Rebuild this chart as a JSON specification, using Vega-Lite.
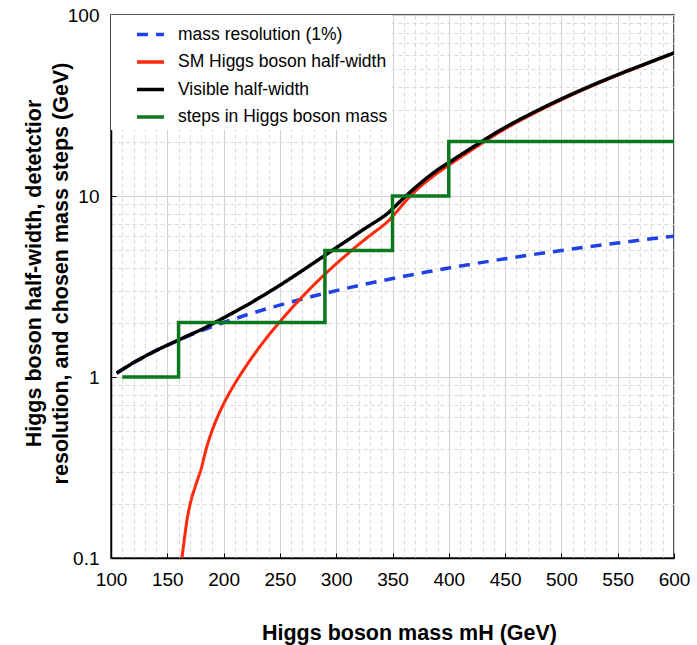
{
  "$schema": "https://vega.github.io/schema/vega-lite/v6.json",
  "width": 563,
  "height": 543,
  "autosize": {"type": "none"},
  "padding": {"left": 111, "top": 15, "right": 23, "bottom": 87},
  "background": "white",
  "config": {
    "font": "Liberation Sans",
    "view": {"stroke": "#222222", "strokeWidth": 1.5},
    "axis": {
      "domainColor": "#000000",
      "domainWidth": 1.5,
      "tickColor": "#000000",
      "tickWidth": 1,
      "labelFont": "Liberation Sans",
      "labelFontSize": 19,
      "labelColor": "#000000",
      "labelFlush": false,
      "labelOverlap": false,
      "titleFont": "Liberation Sans",
      "titleFontSize": 21.5,
      "titleFontWeight": "bold",
      "titleColor": "#000000"
    },
    "legend": {
      "labelFont": "Liberation Sans",
      "labelFontSize": 17.5,
      "labelColor": "#000000"
    }
  },
  "datasets": {
    "curves": [
      {"m": 105, "v": 1.05, "s": "mass resolution (1%)"},
      {"m": 120, "v": 1.2, "s": "mass resolution (1%)"},
      {"m": 140, "v": 1.4, "s": "mass resolution (1%)"},
      {"m": 160, "v": 1.6, "s": "mass resolution (1%)"},
      {"m": 180, "v": 1.8, "s": "mass resolution (1%)"},
      {"m": 200, "v": 2.0, "s": "mass resolution (1%)"},
      {"m": 220, "v": 2.2, "s": "mass resolution (1%)"},
      {"m": 240, "v": 2.4, "s": "mass resolution (1%)"},
      {"m": 260, "v": 2.6, "s": "mass resolution (1%)"},
      {"m": 280, "v": 2.8, "s": "mass resolution (1%)"},
      {"m": 300, "v": 3.0, "s": "mass resolution (1%)"},
      {"m": 320, "v": 3.2, "s": "mass resolution (1%)"},
      {"m": 340, "v": 3.4, "s": "mass resolution (1%)"},
      {"m": 360, "v": 3.6, "s": "mass resolution (1%)"},
      {"m": 380, "v": 3.8, "s": "mass resolution (1%)"},
      {"m": 400, "v": 4.0, "s": "mass resolution (1%)"},
      {"m": 425, "v": 4.25, "s": "mass resolution (1%)"},
      {"m": 450, "v": 4.5, "s": "mass resolution (1%)"},
      {"m": 475, "v": 4.75, "s": "mass resolution (1%)"},
      {"m": 500, "v": 5.0, "s": "mass resolution (1%)"},
      {"m": 525, "v": 5.25, "s": "mass resolution (1%)"},
      {"m": 550, "v": 5.5, "s": "mass resolution (1%)"},
      {"m": 575, "v": 5.75, "s": "mass resolution (1%)"},
      {"m": 600, "v": 6.0, "s": "mass resolution (1%)"},

      {"m": 163, "v": 0.1, "s": "SM Higgs boson half-width"},
      {"m": 165, "v": 0.125, "s": "SM Higgs boson half-width"},
      {"m": 167, "v": 0.155, "s": "SM Higgs boson half-width"},
      {"m": 170, "v": 0.195, "s": "SM Higgs boson half-width"},
      {"m": 175, "v": 0.25, "s": "SM Higgs boson half-width"},
      {"m": 180, "v": 0.31, "s": "SM Higgs boson half-width"},
      {"m": 185, "v": 0.41, "s": "SM Higgs boson half-width"},
      {"m": 190, "v": 0.51, "s": "SM Higgs boson half-width"},
      {"m": 195, "v": 0.61, "s": "SM Higgs boson half-width"},
      {"m": 200, "v": 0.71, "s": "SM Higgs boson half-width"},
      {"m": 210, "v": 0.92, "s": "SM Higgs boson half-width"},
      {"m": 220, "v": 1.15, "s": "SM Higgs boson half-width"},
      {"m": 230, "v": 1.41, "s": "SM Higgs boson half-width"},
      {"m": 240, "v": 1.7, "s": "SM Higgs boson half-width"},
      {"m": 250, "v": 2.02, "s": "SM Higgs boson half-width"},
      {"m": 260, "v": 2.38, "s": "SM Higgs boson half-width"},
      {"m": 270, "v": 2.78, "s": "SM Higgs boson half-width"},
      {"m": 280, "v": 3.22, "s": "SM Higgs boson half-width"},
      {"m": 290, "v": 3.7, "s": "SM Higgs boson half-width"},
      {"m": 300, "v": 4.22, "s": "SM Higgs boson half-width"},
      {"m": 310, "v": 4.78, "s": "SM Higgs boson half-width"},
      {"m": 320, "v": 5.4, "s": "SM Higgs boson half-width"},
      {"m": 330, "v": 6.05, "s": "SM Higgs boson half-width"},
      {"m": 340, "v": 6.75, "s": "SM Higgs boson half-width"},
      {"m": 345, "v": 7.15, "s": "SM Higgs boson half-width"},
      {"m": 350, "v": 7.7, "s": "SM Higgs boson half-width"},
      {"m": 360, "v": 9.1, "s": "SM Higgs boson half-width"},
      {"m": 370, "v": 10.6, "s": "SM Higgs boson half-width"},
      {"m": 380, "v": 12.0, "s": "SM Higgs boson half-width"},
      {"m": 390, "v": 13.4, "s": "SM Higgs boson half-width"},
      {"m": 400, "v": 14.8, "s": "SM Higgs boson half-width"},
      {"m": 420, "v": 17.9, "s": "SM Higgs boson half-width"},
      {"m": 450, "v": 23.5, "s": "SM Higgs boson half-width"},
      {"m": 475, "v": 28.5, "s": "SM Higgs boson half-width"},
      {"m": 500, "v": 34.0, "s": "SM Higgs boson half-width"},
      {"m": 525, "v": 40.0, "s": "SM Higgs boson half-width"},
      {"m": 550, "v": 46.5, "s": "SM Higgs boson half-width"},
      {"m": 575, "v": 53.5, "s": "SM Higgs boson half-width"},
      {"m": 600, "v": 61.5, "s": "SM Higgs boson half-width"},

      {"m": 105, "v": 1.05, "s": "Visible half-width"},
      {"m": 120, "v": 1.2, "s": "Visible half-width"},
      {"m": 140, "v": 1.4, "s": "Visible half-width"},
      {"m": 160, "v": 1.6, "s": "Visible half-width"},
      {"m": 170, "v": 1.711, "s": "Visible half-width"},
      {"m": 180, "v": 1.826, "s": "Visible half-width"},
      {"m": 190, "v": 1.967, "s": "Visible half-width"},
      {"m": 200, "v": 2.122, "s": "Visible half-width"},
      {"m": 210, "v": 2.293, "s": "Visible half-width"},
      {"m": 220, "v": 2.482, "s": "Visible half-width"},
      {"m": 230, "v": 2.698, "s": "Visible half-width"},
      {"m": 240, "v": 2.941, "s": "Visible half-width"},
      {"m": 250, "v": 3.214, "s": "Visible half-width"},
      {"m": 260, "v": 3.525, "s": "Visible half-width"},
      {"m": 270, "v": 3.875, "s": "Visible half-width"},
      {"m": 280, "v": 4.267, "s": "Visible half-width"},
      {"m": 290, "v": 4.701, "s": "Visible half-width"},
      {"m": 300, "v": 5.178, "s": "Visible half-width"},
      {"m": 310, "v": 5.697, "s": "Visible half-width"},
      {"m": 320, "v": 6.277, "s": "Visible half-width"},
      {"m": 330, "v": 6.891, "s": "Visible half-width"},
      {"m": 340, "v": 7.558, "s": "Visible half-width"},
      {"m": 345, "v": 7.95, "s": "Visible half-width"},
      {"m": 350, "v": 8.5, "s": "Visible half-width"},
      {"m": 360, "v": 9.75, "s": "Visible half-width"},
      {"m": 370, "v": 11.1, "s": "Visible half-width"},
      {"m": 380, "v": 12.5, "s": "Visible half-width"},
      {"m": 390, "v": 13.95, "s": "Visible half-width"},
      {"m": 400, "v": 15.3, "s": "Visible half-width"},
      {"m": 420, "v": 18.39, "s": "Visible half-width"},
      {"m": 450, "v": 23.93, "s": "Visible half-width"},
      {"m": 475, "v": 28.89, "s": "Visible half-width"},
      {"m": 500, "v": 34.37, "s": "Visible half-width"},
      {"m": 525, "v": 40.34, "s": "Visible half-width"},
      {"m": 550, "v": 46.82, "s": "Visible half-width"},
      {"m": 575, "v": 53.81, "s": "Visible half-width"},
      {"m": 600, "v": 61.79, "s": "Visible half-width"},

      {"m": 110, "v": 1, "s": "steps in Higgs boson mass"},
      {"m": 160, "v": 2, "s": "steps in Higgs boson mass"},
      {"m": 290, "v": 5, "s": "steps in Higgs boson mass"},
      {"m": 350, "v": 10, "s": "steps in Higgs boson mass"},
      {"m": 400, "v": 20, "s": "steps in Higgs boson mass"},
      {"m": 600, "v": 20, "s": "steps in Higgs boson mass"}
    ]
  },
  "data": {"name": "curves"},
  "encoding": {
    "x": {
      "field": "m",
      "type": "quantitative",
      "scale": {"domain": [100, 600], "nice": false, "zero": false},
      "axis": {
        "title": "Higgs boson mass mH (GeV)",
        "values": [100,110,120,130,140,150,160,170,180,190,200,210,220,230,240,250,260,270,280,290,300,310,320,330,340,350,360,370,380,390,400,410,420,430,440,450,460,470,480,490,500,510,520,530,540,550,560,570,580,590,600],
        "labelExpr": "datum.value % 50 == 0 ? datum.label : ''",
        "labelPadding": 17,
        "tickSize": -5,
        "tickOpacity": {"condition": {"test": "datum.value % 50 == 0", "value": 1}, "value": 0},
        "grid": true,
        "gridColor": {"condition": {"test": "datum.value % 50 == 0", "value": "#d2d2d2"}, "value": "#dadada"},
        "gridDash": {"condition": {"test": "datum.value % 50 == 0", "value": []}, "value": [4, 3]},
        "gridWidth": 1,
        "titleX": 298,
        "titleY": 81,
        "titleBaseline": "alphabetic",
        "titleAnchor": "middle"
      }
    },
    "y": {
      "field": "v",
      "type": "quantitative",
      "scale": {"type": "log", "domain": [0.1, 100], "nice": false},
      "axis": {
        "title": ["Higgs boson half-width, detetctior", "resolution, and chosen mass steps (GeV)"],
        "values": [0.1,0.2,0.3,0.4,0.5,0.6,0.7,0.8,0.9,1,2,3,4,5,6,7,8,9,10,20,30,40,50,60,70,80,90,100],
        "labelExpr": "datum.value == 0.1 ? '0.1' : datum.value == 1 ? '1' : datum.value == 10 ? '10' : datum.value == 100 ? '100' : ''",
        "labelPadding": 17,
        "tickSize": -5,
        "tickOpacity": {"condition": {"test": "datum.value == 0.1 || datum.value == 1 || datum.value == 10 || datum.value == 100", "value": 1}, "value": 0},
        "grid": true,
        "gridColor": {"condition": {"test": "datum.value == 0.1 || datum.value == 1 || datum.value == 10 || datum.value == 100", "value": "#d2d2d2"}, "value": "#dadada"},
        "gridDash": {"condition": {"test": "datum.value == 0.1 || datum.value == 1 || datum.value == 10 || datum.value == 100", "value": []}, "value": [4, 3]},
        "gridWidth": 1,
        "titleX": -77,
        "titleY": 258,
        "titleBaseline": "middle",
        "titleLineHeight": 27,
        "titleAnchor": "middle"
      }
    },
    "color": {
      "field": "s",
      "type": "nominal",
      "scale": {
        "domain": ["mass resolution (1%)", "SM Higgs boson half-width", "Visible half-width", "steps in Higgs boson mass"],
        "range": ["#1f41e6", "#ff2a0d", "#000000", "#0a781e"]
      },
      "legend": {
        "title": null,
        "orient": "top-left",
        "offset": 0,
        "padding": 4,
        "fillColor": "white",
        "symbolType": "stroke",
        "symbolSize": 729,
        "symbolStrokeWidth": 3.5,
        "symbolOffset": 20,
        "labelOffset": 12,
        "rowPadding": 3.5,
        "labelLimit": 400
      }
    },
    "strokeDash": {
      "field": "s",
      "type": "nominal",
      "scale": {
        "domain": ["mass resolution (1%)", "SM Higgs boson half-width", "Visible half-width", "steps in Higgs boson mass"],
        "range": [[11, 8], [1, 0], [1, 0], [1, 0]]
      },
      "legend": {
        "title": null,
        "orient": "top-left",
        "offset": 0,
        "padding": 4,
        "fillColor": "white",
        "symbolType": "stroke",
        "symbolSize": 729,
        "symbolStrokeWidth": 3.5,
        "symbolOffset": 20,
        "labelOffset": 12,
        "rowPadding": 3.5,
        "labelLimit": 400
      }
    }
  },
  "layer": [
    {
      "transform": [{"filter": "datum.s == 'mass resolution (1%)'"}],
      "mark": {"type": "line", "strokeWidth": 3.5, "clip": true}
    },
    {
      "transform": [{"filter": "datum.s == 'SM Higgs boson half-width'"}],
      "mark": {"type": "line", "strokeWidth": 3, "clip": true, "interpolate": "monotone"}
    },
    {
      "transform": [{"filter": "datum.s == 'Visible half-width'"}],
      "mark": {"type": "line", "strokeWidth": 3.5, "clip": true, "interpolate": "monotone"}
    },
    {
      "transform": [{"filter": "datum.s == 'steps in Higgs boson mass'"}],
      "mark": {"type": "line", "strokeWidth": 3.5, "clip": true, "interpolate": "step-after"}
    }
  ]
}
